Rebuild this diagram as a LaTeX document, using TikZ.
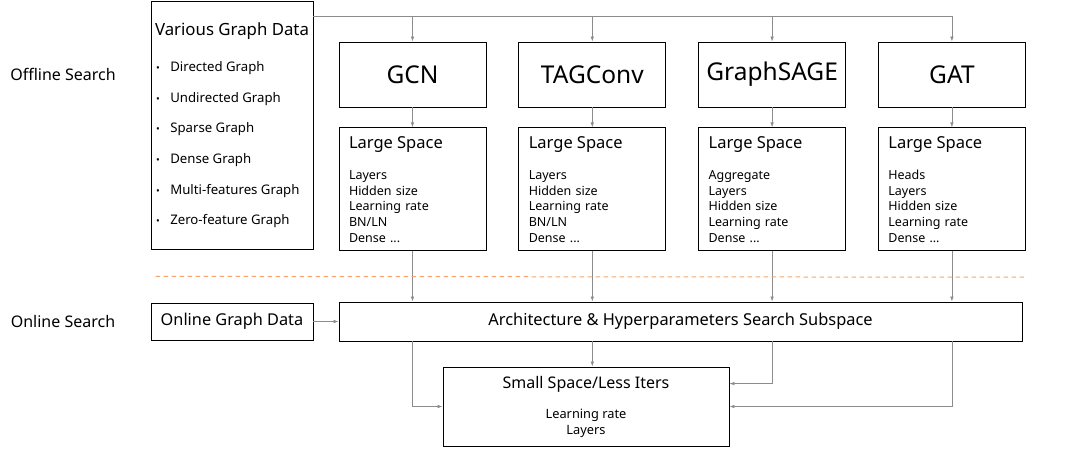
\documentclass[tikz,border=0pt]{standalone}
\usepackage{fontspec}
\setmainfont{Noto Sans}
\usetikzlibrary{arrows.meta,positioning,calc}

\definecolor{sepcol}{HTML}{F5A36B}
\definecolor{linecol}{HTML}{8C8C8C}

\begin{document}
\begin{tikzpicture}[
  x=1pt, y=-1pt,
  node distance=20pt and 32pt,
  box/.style={draw, line width=0.8pt, inner sep=0pt},
  model/.style={box, minimum width=147pt, minimum height=65pt, font=\fontsize{24.5}{28}\selectfont},
  space/.style={box, minimum width=147pt, minimum height=123pt, text width=127pt, align=left, font=\fontsize{12.5}{15.6}\selectfont},
  lbl/.style={font=\fontsize{16}{19}\selectfont},
  arr/.style={-{Latex[length=5pt,width=3.5pt]}, draw=linecol, line width=0.7pt},
  sep/.style={draw=sepcol, line width=1pt, dash pattern=on 4.5pt off 3.5pt}
]
\useasboundingbox (0,0) rectangle (1080,475);

\node[lbl] (offline) at (63,74) {Offline Search};
\node[lbl] (onlinelbl) at (63,321) {Online Search};

\node[box, minimum width=162pt, minimum height=248pt, align=left,
      font=\fontsize{13.2}{30.6}\selectfont] (data) at (232,125)
  {{\fontsize{16.8}{20}\selectfont Various Graph Data}\\[6pt]
   \hspace{1pt}{\fontsize{10}{10}\selectfont\textbullet}\hspace{10.5pt}Directed Graph\\
   \hspace{1pt}{\fontsize{10}{10}\selectfont\textbullet}\hspace{10.5pt}Undirected Graph\\
   \hspace{1pt}{\fontsize{10}{10}\selectfont\textbullet}\hspace{10.5pt}Sparse Graph\\
   \hspace{1pt}{\fontsize{10}{10}\selectfont\textbullet}\hspace{10.5pt}Dense Graph\\
   \hspace{1pt}{\fontsize{10}{10}\selectfont\textbullet}\hspace{10.5pt}Multi-features Graph\\
   \hspace{1pt}{\fontsize{10}{10}\selectfont\textbullet}\hspace{10.5pt}Zero-feature Graph};

\node[model] (gcn) at (412.5,74.5) {GCN};
\node[model, right=of gcn] (tag) {TAGConv};
\node[model, right=of tag] (sage) {GraphSAGE};
\node[model, right=of sage] (gat) {GAT};

\node[space, below=of gcn] (gcnls) {{\fontsize{16.5}{20}\selectfont Large Space}\\[16pt]
  Layers\\Hidden size\\Learning rate\\BN/LN\\Dense ...};
\node[space, below=of tag] (tagls) {{\fontsize{16.5}{20}\selectfont Large Space}\\[16pt]
  Layers\\Hidden size\\Learning rate\\BN/LN\\Dense ...};
\node[space, below=of sage] (sagels) {{\fontsize{16.5}{20}\selectfont Large Space}\\[16pt]
  Aggregate\\Layers\\Hidden size\\Learning rate\\Dense ...};
\node[space, below=of gat] (gatls) {{\fontsize{16.5}{20}\selectfont Large Space}\\[16pt]
  Heads\\Layers\\Hidden size\\Learning rate\\Dense ...};

\node[box, minimum width=683pt, minimum height=39pt, font=\fontsize{16.4}{19}\selectfont] (arch) at (680.5,321.5)
  {Architecture \& Hyperparameters Search Subspace};
\node[box, minimum width=162pt, minimum height=37pt, font=\fontsize{16.3}{19}\selectfont] (online) at (232,321.5)
  {Online Graph Data};
\node[box, minimum width=286pt, minimum height=79pt, align=center,
      font=\fontsize{12.8}{15.5}\selectfont] (small) at (586,406.5)
  {{\fontsize{16}{19}\selectfont Small Space/Less Iters}\\[15pt]Learning rate\\Layers};

\coordinate (bus) at (0,16);
\coordinate (sagein) at ($(small.north east)+(0,17)$);

\draw[arr] (data.east |- bus) -| (gat);
\foreach \m in {gcn,tag,sage}
  \draw[arr] (\m.north |- bus) -- (\m);
\foreach \m in {gcn,tag,sage,gat} {
  \draw[arr] (\m) -- (\m ls);
  \draw[arr] (\m ls) -- (\m ls.south |- arch.north);
}
\draw[sep] ([xshift=5pt,yshift=-27pt]data.south west) -- ([yshift=-26pt]gatls.south east);
\draw[arr] (online) -- (arch);
\draw[arr] (arch.south -| gcn) |- (small.west);
\draw[arr] (arch.south -| tag) -- (small.north -| tag);
\draw[arr] (arch.south -| sage) |- (sagein);
\draw[arr] (arch.south -| gat) |- (small.east);
\end{tikzpicture}
\end{document}
